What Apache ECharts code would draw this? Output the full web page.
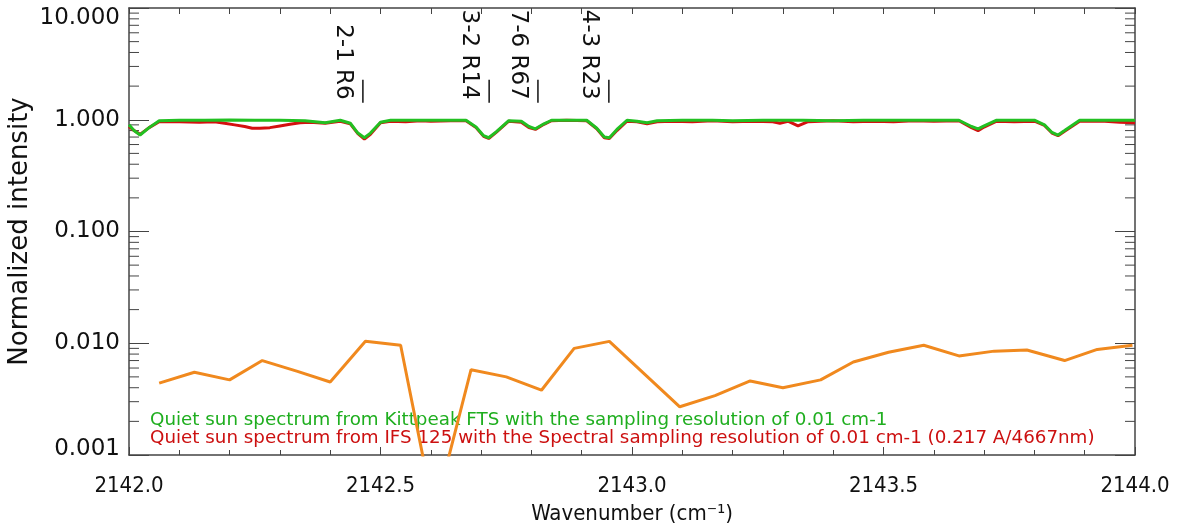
<!DOCTYPE html>
<html>
<head>
<meta charset="utf-8">
<script src="https://cdn.jsdelivr.net/npm/echarts@6/dist/echarts.min.js"></script>
<style>
  html, body { margin: 0; padding: 0; background: #fff; }
  #chart { width: 1178px; height: 529px; }
</style>
</head>
<body>
<div id="chart"></div>
<script>
// Kitt Peak FTS spectrum (green), [wavenumber, intensity]
var kittpeak = [
  [2142.00, 0.90], [2142.01, 0.80], [2142.022, 0.73], [2142.04, 0.85], [2142.06, 0.98],
  [2142.10, 0.99], [2142.15, 0.99], [2142.20, 0.995], [2142.25, 0.99], [2142.30, 0.99],
  [2142.35, 0.98], [2142.39, 0.94], [2142.42, 0.99], [2142.44, 0.93], [2142.455, 0.76],
  [2142.468, 0.69], [2142.48, 0.76], [2142.50, 0.95], [2142.52, 0.99], [2142.60, 0.99],
  [2142.67, 0.99], [2142.69, 0.86], [2142.705, 0.72], [2142.715, 0.69], [2142.73, 0.78],
  [2142.755, 0.98], [2142.78, 0.97], [2142.795, 0.87], [2142.808, 0.83], [2142.825, 0.92],
  [2142.84, 0.99], [2142.91, 0.99], [2142.93, 0.84], [2142.945, 0.70], [2142.955, 0.69],
  [2142.97, 0.82], [2142.99, 0.99], [2143.01, 0.97], [2143.03, 0.94], [2143.05, 0.98],
  [2143.10, 0.99], [2143.16, 0.99], [2143.20, 0.98], [2143.26, 0.99], [2143.34, 0.99],
  [2143.40, 0.98], [2143.46, 0.99], [2143.52, 0.99], [2143.58, 0.99], [2143.65, 0.99],
  [2143.675, 0.87], [2143.688, 0.83], [2143.70, 0.88], [2143.725, 0.99], [2143.80, 0.99],
  [2143.82, 0.90], [2143.835, 0.77], [2143.847, 0.73], [2143.86, 0.80], [2143.89, 0.99],
  [2143.95, 0.99], [2144.00, 0.99]
];

// IFS 125 spectrum (red), [wavenumber, intensity]
var ifs125 = [
  [2142.00, 0.87], [2142.01, 0.80], [2142.022, 0.74], [2142.04, 0.85], [2142.06, 0.96],
  [2142.10, 0.96], [2142.14, 0.95], [2142.17, 0.96], [2142.19, 0.93], [2142.21, 0.90],
  [2142.23, 0.87], [2142.245, 0.84], [2142.26, 0.84], [2142.28, 0.85], [2142.30, 0.88],
  [2142.32, 0.91], [2142.34, 0.94], [2142.36, 0.95], [2142.39, 0.93], [2142.42, 0.97],
  [2142.44, 0.92], [2142.455, 0.75], [2142.468, 0.67], [2142.48, 0.74], [2142.50, 0.94],
  [2142.52, 0.97], [2142.55, 0.96], [2142.58, 0.98], [2142.60, 0.97], [2142.64, 0.98],
  [2142.67, 0.98], [2142.69, 0.85], [2142.705, 0.71], [2142.715, 0.68], [2142.73, 0.77],
  [2142.755, 0.97], [2142.78, 0.95], [2142.795, 0.85], [2142.808, 0.82], [2142.825, 0.91],
  [2142.84, 0.98], [2142.87, 0.99], [2142.91, 0.98], [2142.93, 0.83], [2142.945, 0.69],
  [2142.955, 0.68], [2142.97, 0.80], [2142.99, 0.97], [2143.01, 0.96], [2143.03, 0.92],
  [2143.05, 0.96], [2143.08, 0.97], [2143.12, 0.96], [2143.16, 0.98], [2143.20, 0.96],
  [2143.24, 0.97], [2143.28, 0.96], [2143.294, 0.93], [2143.31, 0.97], [2143.33, 0.88],
  [2143.35, 0.96], [2143.40, 0.98], [2143.44, 0.96], [2143.48, 0.97], [2143.52, 0.96],
  [2143.56, 0.98], [2143.60, 0.97], [2143.65, 0.98], [2143.675, 0.85], [2143.688, 0.80],
  [2143.70, 0.86], [2143.725, 0.97], [2143.76, 0.96], [2143.80, 0.97], [2143.82, 0.89],
  [2143.835, 0.76], [2143.847, 0.72], [2143.86, 0.79], [2143.89, 0.97], [2143.94, 0.97],
  [2143.97, 0.95], [2144.00, 0.94]
];

// orange curve
var diffX = [
  2142.06, 2142.13, 2142.20, 2142.265, 2142.335, 2142.40, 2142.47, 2142.54, 2142.607, 2142.68,
  2142.75, 2142.82, 2142.885, 2142.955, 2143.025, 2143.095, 2143.165, 2143.235, 2143.30, 2143.375,
  2143.44, 2143.51, 2143.58, 2143.65, 2143.72, 2143.785, 2143.86, 2143.925, 2143.995
];
var diffY = [
  0.0044, 0.0055, 0.0047, 0.0070, 0.0056, 0.0045, 0.0104, 0.0096, 0.0003, 0.0058,
  0.0050, 0.0038, 0.0090, 0.0104, 0.0053, 0.0027, 0.0034, 0.0046, 0.0040, 0.0047,
  0.0068, 0.0083, 0.0096, 0.0077, 0.0085, 0.0087, 0.0070, 0.0088, 0.0096
];

// line identifications
var lineNames = ['2-1 R6', '3-2 R14', '7-6 R67', '4-3 R23'];
var linePos = [2142.465, 2142.716, 2142.813, 2142.954];
var markLow = 1.42;
var markHigh = 2.28;

var yTicks = [0.001, 0.01, 0.1, 1, 10];
var X_MIN = 2142.0, X_MAX = 2144.0;

var minorVals = [];
for (var e = 0; e < yTicks.length - 1; e++) {
  for (var m = 2; m <= 9; m++) minorVals.push([X_MIN, m * yTicks[e]]);
}

var chart = echarts.init(document.getElementById('chart'));

var axisColor = '#444';

chart.setOption({
  animation: false,
  grid: { left: 129, right: 43, top: 8, bottom: 74, outerBoundsMode: 'none', containLabel: false },
  xAxis: [{
    type: 'value',
    min: X_MIN,
    max: X_MAX,
    interval: 0.5,
    name: 'Wavenumber (cm⁻¹)',
    nameLocation: 'middle',
    nameGap: 48,
    nameMoveOverlap: false,
    nameTextStyle: { fontFamily: 'DejaVu Sans Condensed', fontSize: 22, color: '#111' },
    axisLine: { show: true, onZero: false, lineStyle: { color: axisColor, width: 1.5 } },
    axisTick: { inside: true, length: 8, lineStyle: { color: axisColor } },
    minorTick: { show: true, splitNumber: 5, length: 5, lineStyle: { color: axisColor } },
    axisLabel: {
      fontFamily: 'DejaVu Sans Condensed', fontSize: 22, color: '#111', margin: 20,
      formatter: function (v) { return v.toFixed(1); }
    },
    splitLine: { show: false }
  }, {
    type: 'value',
    position: 'top',
    min: X_MIN,
    max: X_MAX,
    interval: 0.5,
    axisLine: { show: true, onZero: false, lineStyle: { color: axisColor, width: 1.5 } },
    axisTick: { inside: true, length: 6, lineStyle: { color: axisColor } },
    minorTick: { show: true, splitNumber: 5, length: 6, lineStyle: { color: axisColor } },
    axisLabel: { show: false },
    splitLine: { show: false }
  }],
  yAxis: [{
    type: 'log',
    logBase: 10,
    min: 0.001,
    max: 10,
    name: 'Normalized intensity',
    nameLocation: 'middle',
    nameRotate: 90,
    nameGap: 96,
    nameMoveOverlap: false,
    nameTextStyle: { fontFamily: 'DejaVu Sans', fontSize: 26, color: '#111' },
    axisLine: { show: true, onZero: false, lineStyle: { color: axisColor, width: 1.5 } },
    axisTick: { inside: true, length: 20, lineStyle: { color: axisColor } },
    axisLabel: {
      fontFamily: 'DejaVu Sans', fontSize: 23, color: '#111', margin: 9,
      formatter: function (v) {
        var s = v.toFixed(3);
        if (v >= 10) return '{hi|' + s + '}';
        if (v <= 0.001) return '{lo|' + s + '}';
        return s;
      },
      rich: {
        hi: { fontFamily: 'DejaVu Sans', fontSize: 23, color: '#111', padding: [20, 0, 0, 0] },
        lo: { fontFamily: 'DejaVu Sans', fontSize: 23, color: '#111', padding: [0, 0, 12, 0] }
      }
    },
    splitLine: { show: false }
  }, {
    type: 'log',
    logBase: 10,
    min: 0.001,
    max: 10,
    position: 'right',
    axisLine: { show: true, onZero: false, lineStyle: { color: axisColor, width: 1.5 } },
    axisTick: { inside: true, length: 20, lineStyle: { color: axisColor } },
    axisLabel: { show: false },
    splitLine: { show: false }
  }],
  graphic: [{
    type: 'text', left: 150, top: 411,
    style: { text: 'Quiet sun spectrum from Kittpeak FTS with the sampling resolution of 0.01 cm-1',
      fill: '#1fae1f', font: '18.3px "DejaVu Sans"' }
  }, {
    type: 'text', left: 150, top: 429,
    style: { text: 'Quiet sun spectrum from IFS 125 with the Spectral sampling resolution of 0.01 cm-1 (0.217 A/4667nm)',
      fill: '#cc1010', font: '18.3px "DejaVu Sans"' }
  }],
  series: [{
    name: 'minor ticks',
    type: 'custom',
    silent: true,
    data: minorVals,
    renderItem: function (params, api) {
      var p = api.coord([X_MIN, api.value(1)]);
      var q = api.coord([X_MAX, api.value(1)]);
      return {
        type: 'group',
        children: [
          { type: 'line', shape: { x1: p[0], y1: p[1], x2: p[0] + 10, y2: p[1] }, style: { stroke: axisColor, lineWidth: 1 } },
          { type: 'line', shape: { x1: q[0], y1: q[1], x2: q[0] - 10, y2: q[1] }, style: { stroke: axisColor, lineWidth: 1 } }
        ]
      };
    }
  }, {
    name: 'IFS 125',
    type: 'line',
    data: ifs125,
    showSymbol: false,
    lineStyle: { color: '#d41010', width: 3 },
    z: 3
  }, {
    name: 'Kittpeak FTS',
    type: 'line',
    data: kittpeak,
    showSymbol: false,
    lineStyle: { color: '#22c022', width: 3 },
    z: 4
  }, {
    name: 'difference',
    type: 'line',
    data: diffX.map(function (x, i) { return [x, diffY[i]]; }),
    showSymbol: false,
    clip: true,
    lineStyle: { color: '#f0891e', width: 3 },
    z: 3
  }, {
    name: 'line ids',
    type: 'custom',
    silent: true,
    clip: false,
    data: linePos.map(function (x) { return [x, markLow, markHigh]; }),
    renderItem: function (params, api) {
      var lo = api.coord([api.value(0), api.value(1)]);
      var hi = api.coord([api.value(0), api.value(2)]);
      return {
        type: 'group',
        children: [
          { type: 'line', shape: { x1: lo[0], y1: lo[1], x2: hi[0], y2: hi[1] }, style: { stroke: '#111', lineWidth: 1.5 } },
          {
            type: 'text',
            x: lo[0] - 20,
            y: lo[1] - 3,
            rotation: -Math.PI / 2,
            style: {
              text: lineNames[params.dataIndex],
              fill: '#111',
              font: '23px "DejaVu Sans"',
              align: 'right',
              verticalAlign: 'middle'
            }
          }
        ]
      };
    }
  }]
});
</script>
</body>
</html>
